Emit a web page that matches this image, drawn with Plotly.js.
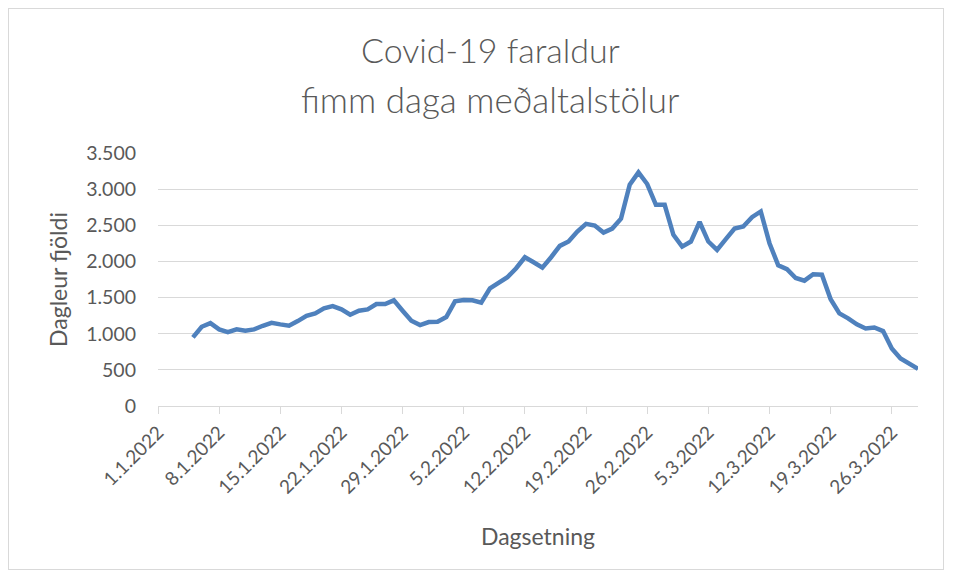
<!DOCTYPE html>
<html>
<head>
<meta charset="utf-8">
<script src="https://cdn.plot.ly/plotly-3.0.1.min.js"></script>
<style>
  html, body { margin: 0; padding: 0; background: #ffffff; }
  #wrap { position: relative; width: 954px; height: 579px; }
  #chart { width: 954px; height: 579px; }
  #frame { position: absolute; left: 8px; top: 8px; width: 936px; height: 562px; border: 1px solid #d9d9d9; pointer-events: none; box-sizing: border-box; }
</style>
</head>
<body>
<div id="wrap">
  <div id="chart"></div>
  <div id="frame"></div>
</div>
<script>
const dates = [
  "2022-01-05","2022-01-06","2022-01-07","2022-01-08","2022-01-09","2022-01-10","2022-01-11","2022-01-12",
  "2022-01-13","2022-01-14","2022-01-15","2022-01-16","2022-01-17","2022-01-18","2022-01-19","2022-01-20",
  "2022-01-21","2022-01-22","2022-01-23","2022-01-24","2022-01-25","2022-01-26","2022-01-27","2022-01-28",
  "2022-01-29","2022-01-30","2022-01-31","2022-02-01","2022-02-02","2022-02-03","2022-02-04","2022-02-05",
  "2022-02-06","2022-02-07","2022-02-08","2022-02-09","2022-02-10","2022-02-11","2022-02-12","2022-02-13",
  "2022-02-14","2022-02-15","2022-02-16","2022-02-17","2022-02-18","2022-02-19","2022-02-20","2022-02-21",
  "2022-02-22","2022-02-23","2022-02-24","2022-02-25","2022-02-26","2022-02-27","2022-02-28","2022-03-01",
  "2022-03-02","2022-03-03","2022-03-04","2022-03-05","2022-03-06","2022-03-07","2022-03-08","2022-03-09",
  "2022-03-10","2022-03-11","2022-03-12","2022-03-13","2022-03-14","2022-03-15","2022-03-16","2022-03-17",
  "2022-03-18","2022-03-19","2022-03-20","2022-03-21","2022-03-22","2022-03-23","2022-03-24","2022-03-25",
  "2022-03-26","2022-03-27","2022-03-28","2022-03-29"
];
const dailyAverage = [
  949, 1096, 1147, 1060, 1022, 1060, 1040, 1060,
  1110, 1151, 1129, 1110, 1175, 1248, 1281, 1351,
  1383, 1337, 1262, 1318, 1337, 1410, 1410, 1462,
  1318, 1179, 1119, 1161, 1165, 1230, 1448, 1466,
  1462, 1429, 1628, 1698, 1781, 1906, 2058, 1989,
  1914, 2058, 2215, 2275, 2413, 2520, 2497, 2399,
  2455, 2590, 3061, 3232, 3071, 2784, 2784, 2368,
  2205, 2275, 2545, 2275, 2160, 2308, 2455, 2483,
  2613, 2691, 2252, 1947, 1892, 1771, 1734, 1822,
  1817, 1476, 1281, 1212, 1129, 1073, 1087, 1036,
  796, 657, 588, 513
];
const titleLines = ["Covid-19 faraldur", "fimm daga meðaltalstölur"];
const xTitle = "Dagsetning";
const yTitle = "Dagleur fjöldi";

const fontFam = "Lato, 'Open Sans', 'Liberation Sans', sans-serif";
const grey = "#595959";

const trace = {
  type: "scatter",
  mode: "lines",
  x: dates,
  y: dailyAverage,
  line: { color: "#4F81BD", width: 4.5, shape: "linear" },
  hoverinfo: "x+y"
};

const layout = {
  width: 954,
  height: 579,
  paper_bgcolor: "#ffffff",
  plot_bgcolor: "#ffffff",
  margin: { l: 158, r: 36, t: 153, b: 173, pad: 0 },
  separators: ",.",
  showlegend: false,
  font: { family: fontFam, color: grey },
  annotations: [
    { xref: "paper", yref: "paper", x: 0.5, y: 0, xanchor: "center", yanchor: "middle",
      xshift: -48, yshift: 357, text: titleLines[0], showarrow: false,
      font: { family: fontFam, size: 34, color: grey, weight: 300 } },
    { xref: "paper", yref: "paper", x: 0.5, y: 0, xanchor: "center", yanchor: "middle",
      xshift: -48, yshift: 307, text: titleLines[1], showarrow: false,
      font: { family: fontFam, size: 35, color: grey, weight: 300 } }
  ],
  xaxis: {
    type: "date",
    range: ["2022-01-01", "2022-03-29"],
    tick0: "2022-01-01",
    dtick: 7 * 24 * 3600 * 1000,
    tickformat: "%-d.%-m.%Y",
    tickangle: -45,
    tickfont: { family: fontFam, size: 19, color: grey },
    ticks: "outside",
    ticklen: 7,
    tickcolor: "#d9d9d9",
    tickwidth: 1,
    showline: true,
    linecolor: "#d9d9d9",
    linewidth: 1,
    showgrid: false,
    zeroline: false,
    fixedrange: true,
    title: { text: xTitle, font: { family: fontFam, size: 23, color: grey }, standoff: 32 }
  },
  yaxis: {
    range: [0, 3500],
    dtick: 500,
    tickformat: ",d",
    tickfont: { family: fontFam, size: 19.5, color: grey },
    ticks: "",
    ticklabelstandoff: 21,
    showgrid: true,
    gridcolor: "#d9d9d9",
    gridwidth: 1,
    zeroline: false,
    showline: false,
    fixedrange: true,
    title: { text: yTitle, font: { family: fontFam, size: 23, color: grey }, standoff: 12 }
  }
};

Plotly.newPlot("chart", [trace], layout, { displayModeBar: false, staticPlot: true });
</script>
</body>
</html>
